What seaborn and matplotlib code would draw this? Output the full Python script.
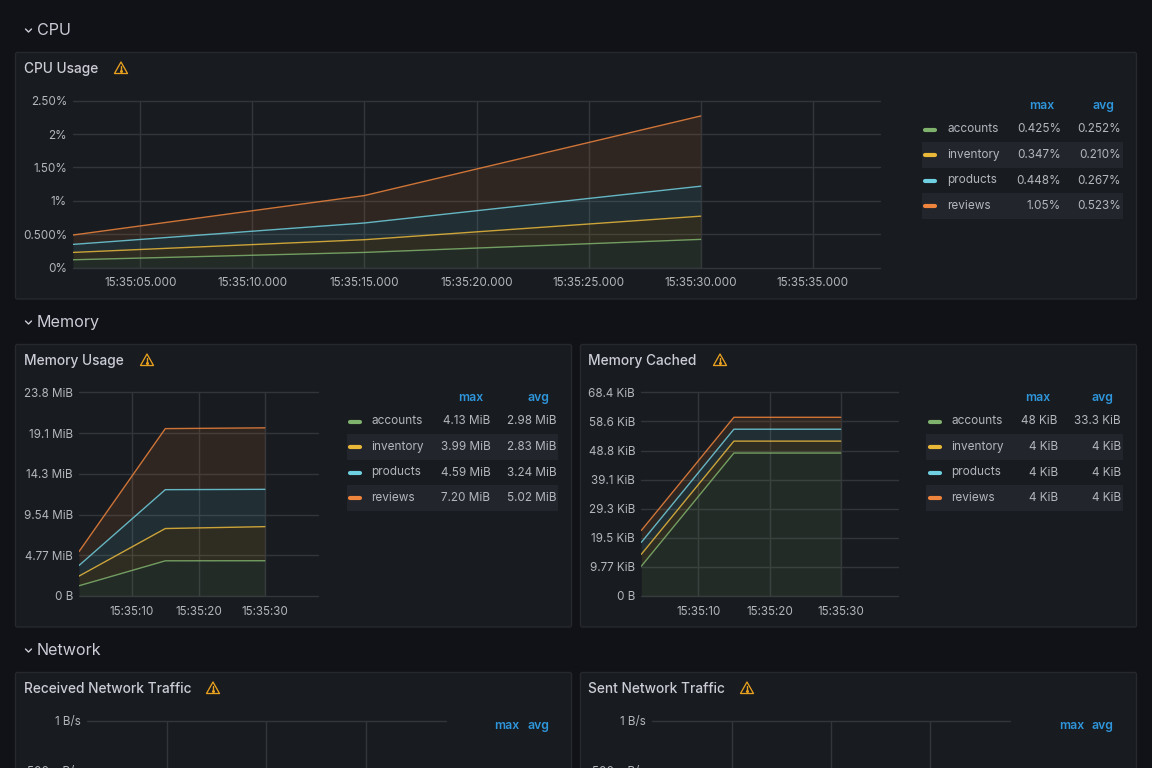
import numpy as np
import pandas as pd
import matplotlib
matplotlib.use("Agg")
import matplotlib.pyplot as plt
from matplotlib.patches import FancyBboxPatch, Polygon, Rectangle
import seaborn as sns

# ---- data ----
series = ["accounts", "inventory", "products", "reviews"]
times = [2, 15, 30]  # seconds after 15:35:00

cpu_accounts = [0.12, 0.23, 0.425]
cpu_inventory = [0.11, 0.19, 0.347]
cpu_products = [0.12, 0.25, 0.448]
cpu_reviews = [0.14, 0.41, 1.05]
cpu_max = ["0.425%", "0.347%", "0.448%", "1.05%"]
cpu_avg = ["0.252%", "0.210%", "0.267%", "0.523%"]
cpu_yticks = [0, 0.5, 1, 1.5, 2, 2.5]
cpu_ylabels = ["0%", "0.500%", "1%", "1.50%", "2%", "2.50%"]
cpu_xticks = [5, 10, 15, 20, 25, 30, 35]
cpu_xlabels = ["15:35:05.000", "15:35:10.000", "15:35:15.000", "15:35:20.000",
               "15:35:25.000", "15:35:30.000", "15:35:35.000"]

mem_accounts = [1.20, 4.12, 4.13]
mem_inventory = [1.13, 3.78, 3.99]
mem_products = [1.24, 4.55, 4.37]
mem_reviews = [1.63, 7.15, 7.20]
mem_max = ["4.13 MiB", "3.99 MiB", "4.59 MiB", "7.20 MiB"]
mem_avg = ["2.98 MiB", "2.83 MiB", "3.24 MiB", "5.02 MiB"]
mem_yticks = [0, 4.768, 9.537, 14.305, 19.073, 23.84]
mem_ylabels = ["0 B", "4.77 MiB", "9.54 MiB", "14.3 MiB", "19.1 MiB", "23.8 MiB"]

cache_accounts = [10, 48, 48]
cache_inventory = [4, 4, 4]
cache_products = [4, 4, 4]
cache_reviews = [4, 4, 4]
cache_max = ["48 KiB", "4 KiB", "4 KiB", "4 KiB"]
cache_avg = ["33.3 KiB", "4 KiB", "4 KiB", "4 KiB"]
cache_yticks = [0, 9.766, 19.53, 29.3, 39.06, 48.83, 58.59, 68.36]
cache_ylabels = ["0 B", "9.77 KiB", "19.5 KiB", "29.3 KiB", "39.1 KiB",
                 "48.8 KiB", "58.6 KiB", "68.4 KiB"]

short_xticks = [10, 20, 30]
short_xlabels = ["15:35:10", "15:35:20", "15:35:30"]
net_xlabels = ["", "", ""]
net_yticks = [0.75, 1]
net_ylabels = ["500 mB/s", "1 B/s"]

# ---- styles ----
BG = "#111217"
PANEL = "#181b1f"
BORDER = "#26282d"
GRID = "#323539"
TEXT = "#cbccd6"
TICK = "#b4b6be"
LEGTEXT = "#b4b6be"
BLUE = "#2f96dc"
ROW = "#22252b"
WARN = "#e8a020"
COLORS = ["#7eb26d", "#eab839", "#6ed0e0", "#ef843c"]
FONT = "Inter"
W, H = 1152, 768

sns.set_theme(style="dark")
plt.rcParams["font.family"] = [FONT, "DejaVu Sans"]
fig = plt.figure(figsize=(W / 100, H / 100), dpi=100, facecolor=BG)

bg = fig.add_axes([0, 0, 1, 1], zorder=0)
bg.set_xlim(0, W)
bg.set_ylim(H, 0)
bg.axis("off")


def panel(x0, y0, x1, y1):
    bg.add_patch(FancyBboxPatch((x0, y0), x1 - x0, y1 - y0,
                                boxstyle="round,pad=0,rounding_size=2",
                                fc=PANEL, ec=BORDER, lw=1, clip_on=True))


def section(title, y):
    bg.plot([25.5, 28.5, 31.5], [y - 0.5, y + 2.5, y - 0.5], color=TEXT, lw=1)
    bg.text(37, y + 0.8, title, color=TEXT, fontsize=11.6, va="center", ha="left")


def warn(cx, cy):
    bg.add_patch(Polygon([(cx, cy - 6), (cx + 6.5, cy + 5.5), (cx - 6.5, cy + 5.5)],
                         closed=True, fc="none", ec=WARN, lw=0.95, joinstyle="round"))
    bg.plot([cx, cx], [cy - 2, cy + 1.5], color=WARN, lw=1)
    bg.plot([cx], [cy + 3.4], "o", color=WARN, ms=1.2)


def title(text, x, y, icon_x):
    bg.text(x, y + 1, text, color=TEXT, fontsize=9.9, fontweight=500, va="center", ha="left")
    warn(icon_x, y)


def legend(rows_y, header_y, sw, name_x, max_r, avg_r, max_h, avg_h, row_x, maxs, avgs):
    bg.text(max_h, header_y + 1, "max", color=BLUE, fontsize=8.8, fontweight=600, ha="right", va="center")
    bg.text(avg_h, header_y + 1, "avg", color=BLUE, fontsize=8.8, fontweight=600, ha="right", va="center")
    for i, name in enumerate(series):
        y = rows_y[i]
        if i % 2 == 1:
            bg.add_patch(Rectangle((row_x[0], y - 12.5), row_x[1] - row_x[0], 25.5, fc=ROW, ec="none"))
        bg.plot(sw, [y + 0.5, y + 0.5], color=COLORS[i], lw=3.0, solid_capstyle="round")
        bg.text(name_x, y + 0.5, name, color=LEGTEXT, fontsize=8.5, va="center", ha="left")
        bg.text(max_r, y + 0.5, maxs[i], color=LEGTEXT, fontsize=8.45, va="center", ha="right")
        bg.text(avg_r, y + 0.5, avgs[i], color=LEGTEXT, fontsize=8.45, va="center", ha="right")


def chart(box, xlim, ylim, xticks, xlabels, yticks, ylabels, stacks=None):
    x0, y0, x1, y1 = box
    ax = fig.add_axes([x0 / W, 1 - y1 / H, (x1 - x0) / W, (y1 - y0) / H], zorder=1)
    ax.patch.set_alpha(0)
    if stacks is not None:
        cum = np.cumsum(np.array(stacks, dtype=float), axis=0)
        frame = pd.DataFrame({
            "t": np.tile(times, len(series)),
            "v": cum.ravel(),
            "s": np.repeat(series, len(times)),
        })
        lower = np.zeros(len(times))
        for i in range(len(series)):
            ax.fill_between(times, lower, cum[i], color=COLORS[i], alpha=0.11, lw=0, zorder=3)
            lower = cum[i]
        sns.lineplot(data=frame, x="t", y="v", hue="s", palette=dict(zip(series, COLORS)),
                     legend=False, lw=1.0, alpha=0.85, ax=ax, zorder=4, errorbar=None)
    ax.set_xlim(*xlim)
    ax.set_ylim(*ylim)
    ax.set_xlabel("")
    ax.set_ylabel("")
    ax.set_xticks(xticks, xlabels)
    ax.set_yticks(yticks, ylabels)
    for s in ax.spines.values():
        s.set_visible(False)
    ax.grid(True, color=GRID, lw=1, zorder=1)
    for ln in ax.get_xgridlines() + ax.get_ygridlines():
        ln.set_clip_on(False)
    ax.tick_params(axis="both", length=0, colors=TICK, labelsize=8.4)
    ax.tick_params(axis="x", pad=6.9)
    ax.tick_params(axis="y", pad=4.4)
    return ax


# panels
panel(15.5, 52.5, 1136.5, 299)
panel(15.5, 344.5, 571.5, 627)
panel(580.5, 344.5, 1136.5, 627)
panel(15.5, 672.5, 571.5, 960)
panel(580.5, 672.5, 1136.5, 960)

section("CPU", 29.5)
section("Memory", 321.5)
section("Network", 649.5)

title("CPU Usage", 24, 68, 121)
title("Memory Usage", 24, 360, 147)
title("Memory Cached", 588.5, 360, 720)
title("Received Network Traffic", 24, 688, 213)
title("Sent Network Traffic", 588.5, 688, 747)

# charts
chart((73, 100.6, 880, 267.8), (2, 38), (0, 2.5), cpu_xticks, cpu_xlabels, cpu_yticks, cpu_ylabels,
      [cpu_accounts, cpu_inventory, cpu_products, cpu_reviews])
chart((79, 392.4, 318, 596), (2, 38), (0, 23.84), short_xticks, short_xlabels, mem_yticks, mem_ylabels,
      [mem_accounts, mem_inventory, mem_products, mem_reviews])
chart((641.3, 392.4, 897.7, 596), (2, 38), (0, 68.36), short_xticks, short_xlabels, cache_yticks, cache_ylabels,
      [cache_accounts, cache_inventory, cache_products, cache_reviews])
chart((87, 721, 445.5, 917), (2, 38), (0, 1), short_xticks, net_xlabels, net_yticks, net_ylabels)
chart((652, 721, 1010, 917), (2, 38), (0, 1), short_xticks, net_xlabels, net_yticks, net_ylabels)

# legends
legend([129, 154.5, 180, 205.5], 105, [925.3, 935], 947, 1061, 1121, 1054, 1114, (921.7, 1123), cpu_max, cpu_avg)
legend([421, 446.5, 472, 497.5], 397, [350, 360], 371.3, 490.3, 556.3, 483, 549, (346.7, 558.3), mem_max, mem_avg)
legend([421, 446.5, 472, 497.5], 397, [930, 940], 951.3, 1057.7, 1120.7, 1050.3, 1113.3, (926, 1123), cache_max, cache_avg)

for mx, ax_ in [(519.6, 549), (1084, 1113.3)]:
    bg.text(mx, 726, "max", color=BLUE, fontsize=8.8, fontweight=600, ha="right", va="center")
    bg.text(ax_, 726, "avg", color=BLUE, fontsize=8.8, fontweight=600, ha="right", va="center")

fig.savefig("out.png", dpi=100, facecolor=BG)
